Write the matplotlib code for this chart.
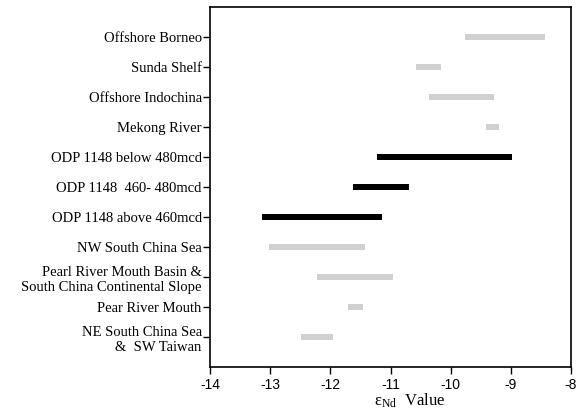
import matplotlib
matplotlib.use('Agg')
import matplotlib.pyplot as plt

labels = ['Offshore Borneo', 'Sunda Shelf', 'Offshore Indochina', 'Mekong River',
          'ODP 1148 below 480mcd', 'ODP 1148  460- 480mcd', 'ODP 1148 above 460mcd',
          'NW South China Sea', 'Pearl River Mouth Basin &\nSouth China Continental Slope',
          'Pear River Mouth', 'NE South China Sea\n&  SW Taiwan']
lo = [-9.76, -10.58, -10.36, -9.41, -11.22, -11.62, -13.14, -13.02, -12.22, -11.71, -12.49]
hi = [-8.43, -10.16, -9.28, -9.20, -8.98, -10.69, -11.14, -11.42, -10.96, -11.46, -11.96]
odp = [False, False, False, False, True, True, True, False, False, False, False]
xticks = [-14, -13, -12, -11, -10, -9, -8]

plt.rcParams['mathtext.fontset'] = 'custom'
plt.rcParams['mathtext.rm'] = 'Liberation Serif'

fig = plt.figure(figsize=(5.86, 4.12), dpi=100)
ax = fig.add_axes([0.3584, 0.1092, 0.616, 0.8738])

ypos = list(range(len(labels)))
widths = [h - l for l, h in zip(lo, hi)]
colors = ['black' if o else '#d0d0d0' for o in odp]
ax.barh(ypos, widths, left=lo, height=0.23, color=colors)

ax.set_xlim(-14, -8)
ax.set_ylim(11, -1)
ax.set_xticks(xticks)
ax.set_xticklabels([str(t) for t in xticks], family='Liberation Sans', fontsize=10)
ax.set_yticks(ypos)
ax.set_yticklabels(labels, family='Liberation Serif', fontsize=10.5, linespacing=1.25)
ax.tick_params(axis='both', direction='out', length=5, width=1.0, color='black')
ax.tick_params(axis='y', pad=1)
ax.tick_params(axis='x', pad=3)
for s in ax.spines.values():
    s.set_linewidth(1.2)

ax.set_xlabel(r'$\mathregular{\epsilon_{Nd}}$  Value', family='Liberation Serif', fontsize=12)
ax.xaxis.set_label_coords(0.554, -0.068)

fig.savefig('out.png', dpi=100)
